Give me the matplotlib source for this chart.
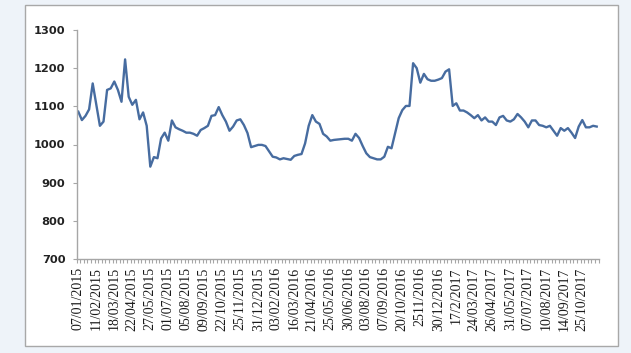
import matplotlib
matplotlib.use("Agg")
import matplotlib.pyplot as plt
from matplotlib.patches import Rectangle
from matplotlib.ticker import FixedLocator

# weekly series
values = [
    1086, 1064, 1075, 1092, 1160, 1105, 1049, 1060, 1143, 1147,
    1165, 1143, 1112, 1223, 1125, 1104, 1117, 1066, 1084, 1049,
    942, 967, 964, 1016, 1031, 1010, 1063, 1045, 1040, 1036,
    1031, 1031, 1028, 1023, 1038, 1043, 1049, 1075, 1077, 1098,
    1077, 1060, 1036, 1047, 1063, 1066, 1051, 1030, 993, 996,
    999, 999, 996, 982, 968, 966, 961, 964, 962, 960,
    970, 973, 975, 1003, 1049, 1077, 1060, 1054, 1028, 1021,
    1010, 1012, 1013, 1014, 1015, 1015, 1010, 1028, 1017, 996,
    977, 967, 964, 961, 961, 968, 994, 990, 1030, 1069,
    1090, 1101, 1101, 1213, 1200, 1162, 1185, 1171, 1167, 1167,
    1170, 1174, 1191, 1197, 1101, 1108, 1089, 1089, 1084, 1077,
    1069, 1077, 1063, 1071, 1060, 1060, 1051, 1071, 1075, 1063,
    1060, 1066, 1080, 1071, 1060, 1045, 1063, 1063, 1051, 1049,
    1045, 1049, 1036, 1023, 1043, 1036, 1043, 1031, 1017, 1047,
    1064, 1045, 1045, 1049, 1047,
]

# one label every 5 weeks
date_labels = [
    "07/01/2015", "11/02/2015", "18/03/2015", "22/04/2015", "27/05/2015",
    "01/07/2015", "05/08/2015", "09/09/2015", "22/10/2015", "25/11/2015",
    "31/12/2015", "03/02/2016", "16/03/2016", "21/04/2016", "25/05/2016",
    "30/06/2016", "03/08/2016", "07/09/2016", "20/10/2016", "2511/2016",
    "30/12/2016", "17/2/2017", "24/03/2017", "26/04/2017", "31/05/2017",
    "07/07/2017", "10/08/2017", "14/09/2017", "25/10/2017",
]
label_step = 5
y_ticks = [700, 800, 900, 1000, 1100, 1200, 1300]

W, H = 631, 353
fig = plt.figure(figsize=(W / 100, H / 100), dpi=100)
fig.patch.set_facecolor("#eef3f9")

# white chart frame, behind the axes
frame = Rectangle((25 / W, 1 - 346 / H), (618 - 25) / W, (346 - 5) / H,
                  transform=fig.transFigure, facecolor="white",
                  edgecolor="#a8a8a8", linewidth=1.0, zorder=-10)
fig.patches.append(frame)

ax = fig.add_axes([76.5 / W, 1 - 259 / H, (598.5 - 76.5) / W, (259 - 30) / H])
ax.set_facecolor("none")
ax.set_zorder(5)

x = list(range(len(values)))
ax.plot(x, values, color="#476ca0", linewidth=1.7, solid_joinstyle="round")

ax.set_xlim(-0.5, len(values) - 0.5)
ax.set_ylim(700, 1300)

ax.set_yticks(y_ticks)
ax.set_yticklabels([str(v) for v in y_ticks], fontsize=8.2, fontweight="bold",
                   color="#222222", family="DejaVu Sans")

ax.set_xticks([i * label_step for i in range(len(date_labels))])
ax.set_xticklabels(date_labels, rotation=90, fontsize=10, color="#1a1a1a",
                   family="Liberation Serif")
ax.xaxis.set_minor_locator(FixedLocator([i - 0.5 for i in range(len(values) + 1)]))

ax.tick_params(axis="x", which="major", length=0, pad=6)
ax.tick_params(axis="x", which="minor", length=3, color="#a6a6a6", width=0.8)
ax.tick_params(axis="y", length=3, color="#a6a6a6", width=0.8, pad=5)

for s in ["top", "right"]:
    ax.spines[s].set_visible(False)
for s in ["left", "bottom"]:
    ax.spines[s].set_color("#a6a6a6")
    ax.spines[s].set_linewidth(1.0)

fig.savefig("out.png", dpi=100, facecolor=fig.get_facecolor())
